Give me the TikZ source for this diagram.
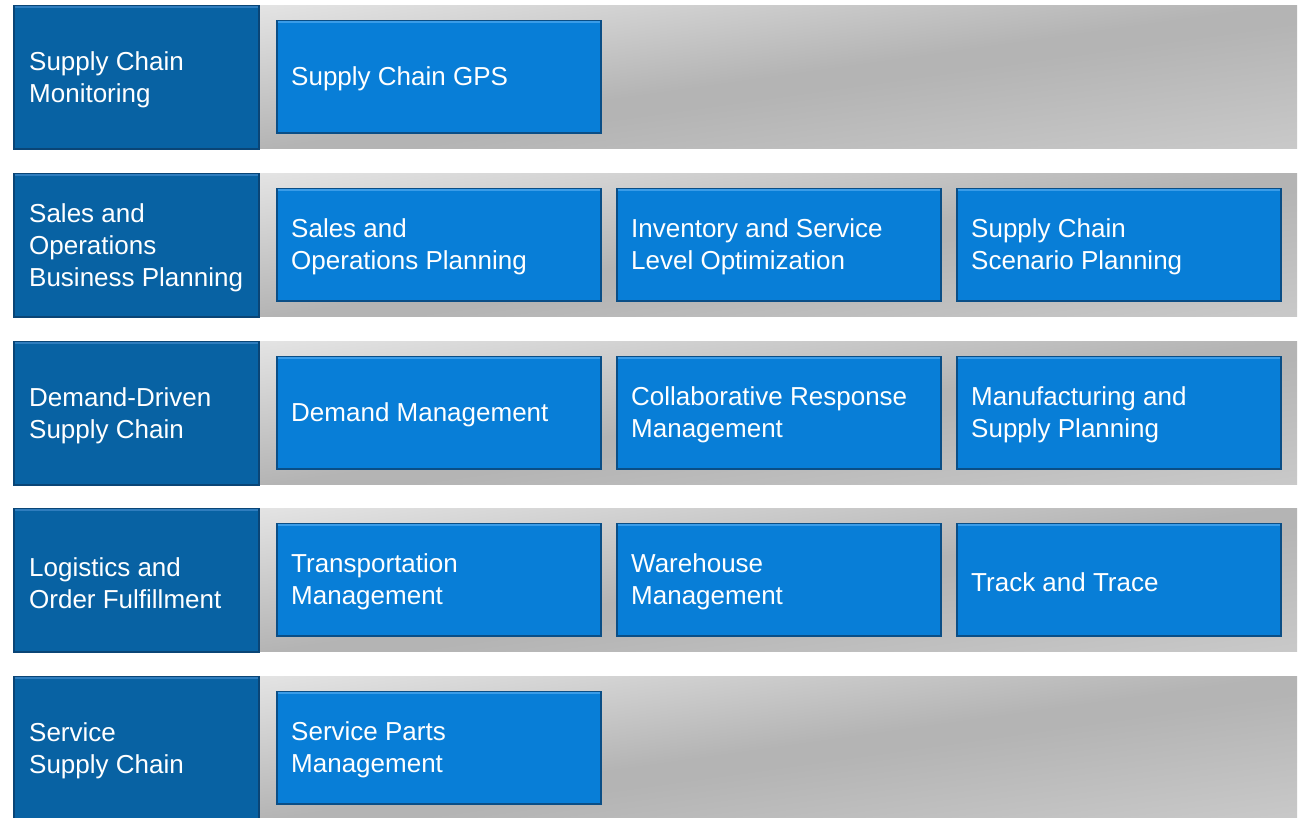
\documentclass[tikz,border=0pt]{standalone}
\usepackage{fontspec}
\setmainfont{Liberation Sans}
\definecolor{darkfill}{HTML}{0862A3}
\definecolor{darkedge}{HTML}{0A4576}
\definecolor{bluefill}{HTML}{087ED7}
\definecolor{blueedge}{HTML}{0A4E86}
\definecolor{bluehi}{HTML}{3A9CE8}
\definecolor{darkhi}{HTML}{2F7DBE}
\definecolor{greyA}{HTML}{E8E8E8}
\definecolor{greyB}{HTML}{B4B4B4}
\definecolor{greyC}{HTML}{CACACA}
\pgfdeclareverticalshading{bandshade}{100bp}{color(0bp)=(greyC); color(37.5bp)=(greyC); color(48.5bp)=(greyB); color(50bp)=(greyB); color(63bp)=(greyA); color(100bp)=(greyA)}
\tikzset{
  txt/.style={text=white, font=\fontsize{26}{32}\selectfont, align=left, inner sep=0pt, anchor=west},
  headbox/.style={draw=darkedge, line width=1.5pt, fill=darkfill, anchor=north west, minimum width=245pt, minimum height=143pt, inner sep=0pt},
  itembox/.style={draw=blueedge, line width=1.5pt, fill=bluefill, anchor=north west, minimum width=324pt, minimum height=112pt, inner sep=0pt},
  hiline/.style={line width=1.5pt},
}
\newcommand\mkhead[3]{%
  \node[headbox] (#1) at (13,#2) {};
  \draw[hiline, darkhi] ([xshift=1.5pt,yshift=-1.8pt]#1.north west) -- ([xshift=-1.5pt,yshift=-1.8pt]#1.north east);
  \node[txt] (#1t) at ([xshift=16pt,yshift=-2.5pt]#1.west) {#3};
}
\newcommand\mkitem[4]{%
  \node[itembox] (#1) at (#2,#3) {};
  \draw[hiline, bluehi] ([xshift=1.5pt,yshift=-1.8pt]#1.north west) -- ([xshift=-1.5pt,yshift=-1.8pt]#1.north east);
  \node[txt] (#1t) at ([xshift=15pt,yshift=-2.5pt]#1.west) {#4};
}
\newcommand\mkband[1]{%
  \begin{scope}
    \clip (250,#1) rectangle (1297,#1+143);
    \begin{scope}[transform canvas={rotate around={8:(777.5,#1+71.5)}}]
      \shade[shading=bandshade] (157.5,#1-228.5) rectangle (1397.5,#1+371.5);
    \end{scope}
  \end{scope}
}
\begin{document}
\begin{tikzpicture}[x=1pt,y=-1pt]
\useasboundingbox (0,0) rectangle (1301,817);
\fill[white] (0,0) rectangle (1301,817);
% bands
\mkband{5}
\mkband{173}
\mkband{341}
\mkband{508}
\mkband{676}
% row 1
\mkhead{h1}{5}{Supply Chain\\Monitoring}
\mkitem{i11}{276}{20}{Supply Chain GPS}
% row 2
\mkhead{h2}{173}{Sales and\\Operations\\Business Planning}
\mkitem{i21}{276}{188}{Sales and\\Operations Planning}
\mkitem{i22}{616}{188}{Inventory and Service\\Level Optimization}
\mkitem{i23}{956}{188}{Supply Chain\\Scenario Planning}
% row 3
\mkhead{h3}{341}{Demand-Driven\\Supply Chain}
\mkitem{i31}{276}{356}{Demand Management}
\mkitem{i32}{616}{356}{Collaborative Response\\Management}
\mkitem{i33}{956}{356}{Manufacturing and\\Supply Planning}
% row 4
\mkhead{h4}{508}{Logistics and\\Order Fulfillment}
\mkitem{i41}{276}{523}{Transportation\\Management}
\mkitem{i42}{616}{523}{Warehouse\\Management}
\mkitem{i43}{956}{523}{Track and Trace}
% row 5
\mkhead{h5}{676}{Service\\Supply Chain}
\mkitem{i51}{276}{691}{Service Parts\\Management}
\end{tikzpicture}
\end{document}
